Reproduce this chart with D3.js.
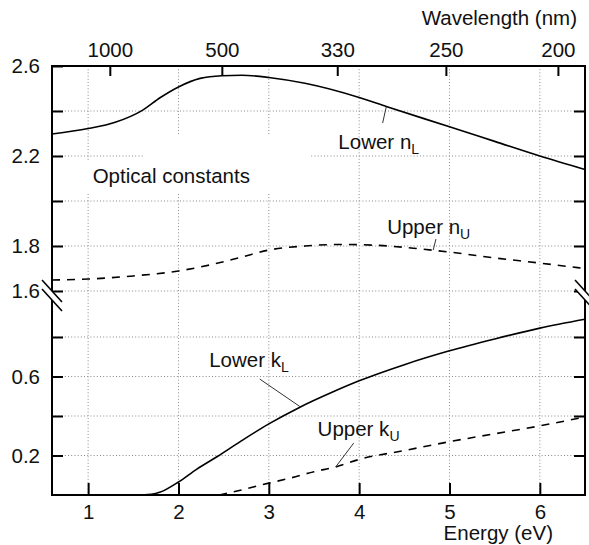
<!DOCTYPE html>
<html>
<head>
<meta charset="UTF-8">
<title>Optical constants</title>
<script src="https://d3js.org/d3.v7.min.js"></script>
<style>
  body { margin: 0; background: #fff; }
  svg { display: block; font-family: "Liberation Sans", Arial, sans-serif; }
  .grid line { stroke: #8a8a8a; stroke-width: 1; stroke-dasharray: 1,2.2; }
  .tick text { font-size: 20.5px; fill: #111; }
  .tick line { stroke: #000; stroke-width: 2; }
  .lbl { font-size: 20.5px; fill: #111; }
  .lbl tspan.sub { font-size: 14px; }
  .leader { stroke: #333; stroke-width: 1; }
</style>
</head>
<body>
<svg id="chart" width="589" height="545"></svg>
<script>
// data
var energyNL = [0.6, 1.0, 1.3, 1.6, 1.8, 2.0, 2.24, 2.48, 2.7, 3.0, 3.4, 4.0, 4.3, 5.0, 5.5, 6.0, 6.5];
var lowerN   = [2.298, 2.322, 2.35, 2.403, 2.46, 2.507, 2.545, 2.557, 2.559, 2.549, 2.523, 2.46, 2.42, 2.33, 2.265, 2.2, 2.14];

var energyNU = [0.6, 1.0, 1.5, 2.0, 2.35, 2.7, 3.0, 3.4, 3.8, 4.2, 4.6, 5.0, 5.5, 6.0, 6.5];
var upperN   = [1.649, 1.653, 1.667, 1.689, 1.716, 1.751, 1.782, 1.80, 1.807, 1.803, 1.79, 1.773, 1.747, 1.724, 1.70];

var energyKL = [1.6, 1.7, 1.8, 2.0, 2.2, 2.43, 2.7, 3.0, 3.35, 3.7, 4.0, 4.5, 5.0, 5.5, 6.0, 6.5];
var lowerK   = [0, 0.003, 0.015, 0.066, 0.13, 0.195, 0.275, 0.36, 0.446, 0.52, 0.578, 0.66, 0.73, 0.79, 0.845, 0.89];

var energyKU = [2.45, 2.6, 3.0, 3.24, 3.5, 3.74, 4.0, 4.5, 5.0, 5.5, 6.0, 6.5];
var upperK   = [0, 0.015, 0.06, 0.086, 0.118, 0.142, 0.18, 0.225, 0.27, 0.31, 0.35, 0.395];

var energyTicks = [1, 2, 3, 4, 5, 6];
var wavelengthTicks = [1000, 500, 330, 250, 200];
var upperTicks = [1.6, 1.8, 2.0, 2.2, 2.4, 2.6];
var upperLabels = [1.6, 1.8, 2.2, 2.6];
var lowerTicks = [0.2, 0.4, 0.6, 0.8];
var lowerLabels = [0.2, 0.6];

var svg = d3.select("#chart");
var pL = 52, pR = 585, pT = 66, pB = 495;
var breakTop = 291, breakBot = 297.5;

var x = d3.scaleLinear().domain([0.6, 6.5]).range([pL, pR]);
var yU = d3.scaleLinear().domain([1.6, 2.6]).range([breakTop, pT]);
var yL = d3.scaleLinear().domain([0, 1.0]).range([pB, breakBot]);

// grid
var grid = svg.append("g").attr("class", "grid");
energyTicks.forEach(function(e) {
  grid.append("line").attr("x1", x(e)).attr("x2", x(e)).attr("y1", pT).attr("y2", pB);
});
upperTicks.slice(0, 5).forEach(function(v) {
  grid.append("line").attr("x1", pL).attr("x2", pR).attr("y1", yU(v)).attr("y2", yU(v));
});
lowerTicks.forEach(function(v) {
  grid.append("line").attr("x1", pL).attr("x2", pR).attr("y1", yL(v)).attr("y2", yL(v));
});

// opaque area round the title label
svg.append("rect").attr("x", 85).attr("y", 161).attr("width", 172).attr("height", 33).attr("fill", "#fff");
svg.append("rect").attr("x", 143).attr("y", 136).attr("width", 168).attr("height", 56).attr("fill", "#fff");

// curves
svg.append("clipPath").attr("id", "clip").append("rect")
  .attr("x", pL).attr("y", pT).attr("width", pR - pL).attr("height", pB - pT);

function drawCurve(es, vs, y, dash) {
  var line = d3.line().x(function(d) { return x(d[0]); }).y(function(d) { return y(d[1]); })
    .curve(d3.curveMonotoneX);
  svg.append("path").datum(d3.zip(es, vs))
    .attr("d", line).attr("fill", "none").attr("stroke", "#000").attr("stroke-width", 1.6)
    .attr("stroke-dasharray", dash).attr("clip-path", "url(#clip)");
}
drawCurve(energyNL, lowerN, yU, null);
drawCurve(energyNU, upperN, yU, "8,7");
drawCurve(energyKL, lowerK, yL, null);
drawCurve(energyKU, upperK, yL, "8,7");

// axes, ticks pointing inward
function fmt(list) { return function(v) { return list.indexOf(v) >= 0 ? d3.format(".1f")(v) : ""; }; }
function addAxis(axis, tx, ty) {
  var g = svg.append("g").attr("transform", "translate(" + tx + "," + ty + ")").call(axis);
  g.select(".domain").remove();
  g.selectAll(".tick text").attr("font-family", null).attr("font-size", null);
  return g;
}

addAxis(d3.axisLeft(yU).tickValues(upperTicks).tickFormat(fmt(upperLabels)).tickSizeInner(-11).tickSizeOuter(0).tickPadding(12), pL, 0);
addAxis(d3.axisLeft(yL).tickValues(lowerTicks).tickFormat(fmt(lowerLabels)).tickSizeInner(-11).tickSizeOuter(0).tickPadding(12), pL, 0);
addAxis(d3.axisRight(yU).tickValues(upperTicks.slice(0, 5)).tickFormat("").tickSizeInner(-11).tickSizeOuter(0), pR, 0);
addAxis(d3.axisRight(yL).tickValues(lowerTicks).tickFormat("").tickSizeInner(-11).tickSizeOuter(0), pR, 0);
addAxis(d3.axisBottom(x).tickValues(energyTicks).tickFormat(d3.format("d")).tickSizeInner(-12).tickSizeOuter(0).tickPadding(9), 0, pB);
var topAxis = addAxis(d3.axisTop(x).tickValues(wavelengthTicks.map(function(l) { return 1240 / l; }))
  .tickSizeInner(-10).tickSizeOuter(0).tickPadding(9), 0, pT);
topAxis.selectAll(".tick text").text(function(d, i) { return wavelengthTicks[i]; });

// frame
svg.append("rect").attr("x", pL).attr("y", pT).attr("width", pR - pL).attr("height", pB - pT)
  .attr("fill", "none").attr("stroke", "#000").attr("stroke-width", 2);

// axis break marks
[pL, pR].forEach(function(bx) {
  var y1 = 290, y2 = 299;
  svg.append("path")
    .attr("d", "M" + (bx - 10) + "," + (y1 - 10) + "L" + (bx + 10) + "," + (y1 + 12) +
               "L" + (bx + 10) + "," + (y2 + 12) + "L" + (bx - 10) + "," + (y2 - 10) + "Z")
    .attr("fill", "#fff");
  [y1, y2].forEach(function(by) {
    svg.append("line").attr("x1", bx - 10).attr("y1", by - 10).attr("x2", bx + 10).attr("y2", by + 12)
      .attr("stroke", "#000").attr("stroke-width", 1.6);
  });
});

// axis titles
svg.append("text").attr("class", "lbl").attr("x", 577).attr("y", 25).attr("text-anchor", "end").text("Wavelength (nm)");
svg.append("text").attr("class", "lbl").attr("x", 553).attr("y", 540).attr("text-anchor", "end").text("Energy (eV)");
svg.append("text").attr("class", "lbl").attr("x", x(1.05)).attr("y", yU(2.08)).text("Optical constants");

// curve labels with leader lines
function label(e, v, y, main, sub, from, to) {
  svg.append("line").attr("class", "leader")
    .attr("x1", x(from[0])).attr("y1", y(from[1])).attr("x2", x(to[0])).attr("y2", y(to[1]));
  var t = svg.append("text").attr("class", "lbl").attr("x", x(e)).attr("y", y(v));
  t.append("tspan").text(main);
  t.append("tspan").attr("class", "sub").attr("dy", 5).text(sub);
}
label(3.77, 2.231, yU, "Lower n", "L", [4.26, 2.347], [4.30, 2.418]);
label(4.31, 1.853, yU, "Upper n", "U", [4.85, 1.831], [4.82, 1.782]);
label(2.34, 0.648, yL, "Lower k", "L", [2.90, 0.587], [3.35, 0.446]);
label(3.54, 0.299, yL, "Upper k", "U", [3.94, 0.263], [3.74, 0.142]);
</script>
</body>
</html>
